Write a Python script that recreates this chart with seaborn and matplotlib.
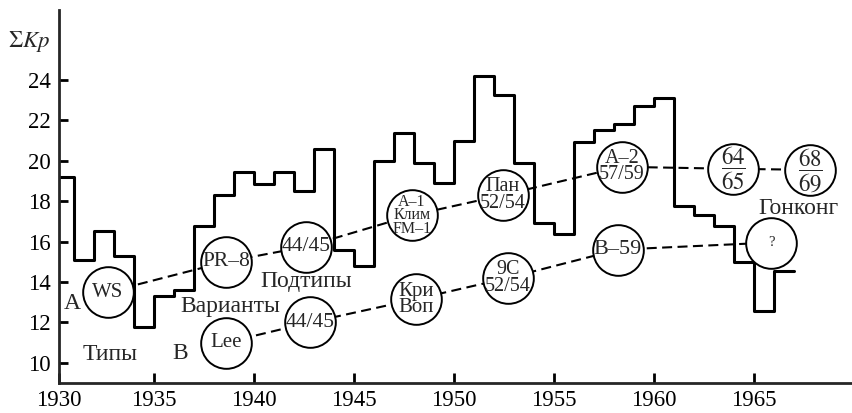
import matplotlib
matplotlib.use('Agg')
import matplotlib.pyplot as plt
import numpy as np
import pandas as pd
import seaborn as sns

# ---- data -------------------------------------------------------------
years = list(range(1930, 1967))
kp = [19.2, 15.1, 16.5, 15.3, 11.75, 13.3, 13.6, 16.75, 18.3, 19.45,
      18.85, 19.45, 18.5, 20.6, 15.6, 14.8, 20.0, 21.35, 19.9, 18.9,
      21.0, 24.2, 23.25, 19.9, 16.9, 16.35, 20.95, 21.5, 21.8, 22.7,
      23.1, 17.75, 17.3, 16.75, 15.0, 12.55, 14.55]

tick_years = [1930, 1935, 1940, 1945, 1950, 1955, 1960, 1965]
y_ticks = [10, 12, 14, 16, 18, 20, 22, 24]

# Type A chain (subtypes)
upper_x = [1932.7, 1938.6, 1942.6, 1947.9, 1952.45, 1958.4, 1963.95, 1967.8]
upper_y = [13.5, 15.0, 15.75, 17.3, 18.3, 19.7, 19.6, 19.55]
upper_labels = ['WS', 'PR–8', '44/45', 'A–1\nКлим\nFM–1', 'Пан\n52/54',
                'A–2\n57/59', r'$\dfrac{64}{65}$', r'$\dfrac{68}{69}$']
upper_sizes = [15, 15.5, 15.5, 11.5, 14.5, 14.5, 16.5, 16.5]

# Type B chain (variants)
lower_x = [1938.6, 1942.8, 1948.1, 1952.7, 1958.2, 1965.85]
lower_y = [11.0, 12.0, 13.15, 14.2, 15.6, 15.95]
lower_labels = ['Lee', '44/45', 'Кри\nВоп', '9C\n52/54', 'B–59', '?']
lower_sizes = [15, 15.5, 15, 14.5, 16, 10.5]

notes = ['A', 'B', 'Типы', 'Варианты', 'Подтипы', 'Гонконг']
note_x = [1930.9, 1936.3, 1932.8, 1938.8, 1942.6, 1967.2]
note_y = [12.95, 10.45, 10.4, 12.8, 14.0, 17.65]

# ---- style ------------------------------------------------------------
sns.set_style('ticks')
plt.rcParams['font.family'] = ['Liberation Serif', 'DejaVu Serif']
plt.rcParams['mathtext.fontset'] = 'stix'

fig = plt.figure(figsize=(8.53, 4.13), dpi=100)
ax = fig.add_axes([59 / 853, 30 / 413, 794 / 853, 373 / 413])

x_left, x_right = 1930.25, 1969.95
ax.set_xlim(x_left, x_right)
ax.set_ylim(9.0, 27.46)

step_df = pd.DataFrame({'year': years + [years[-1] + 1],
                        'kp': kp + [kp[-1]]})
sns.lineplot(data=step_df, x='year', y='kp', drawstyle='steps-post',
             color='black', lw=2.2, estimator=None, ax=ax, zorder=2)

for xs, ys in [(upper_x, upper_y), (lower_x, lower_y)]:
    sns.lineplot(x=xs, y=ys, color='black', lw=1.5, ls=(0, (4.8, 2.6)),
                 estimator=None, ax=ax, zorder=2.5)
    sns.scatterplot(x=xs, y=ys, s=1330, color='white', edgecolor='black',
                    linewidth=1.4, ax=ax, zorder=3)

for xs, ys, labs, sz in [(upper_x, upper_y, upper_labels, upper_sizes),
                         (lower_x, lower_y, lower_labels, lower_sizes)]:
    for x, y, t, s in zip(xs, ys, labs, sz):
        ax.text(x, y, t, ha='center', va='center', fontsize=s,
                linespacing=0.8, zorder=4)

for t, x, y in zip(notes, note_x, note_y):
    ax.text(x, y, t, ha='center', va='center', fontsize=17, zorder=4)

# ---- axes -------------------------------------------------------------
sns.despine(ax=ax)
for sp in ['left', 'bottom']:
    ax.spines[sp].set_linewidth(2)
ax.set_xticks([max(t, x_left) for t in tick_years])
ax.set_xticklabels([str(t) for t in tick_years])
ax.set_yticks(y_ticks)
ax.set_yticklabels([str(v) for v in y_ticks])
ax.tick_params(axis='both', direction='in', width=2, labelsize=16.5,
               colors='black')
ax.tick_params(axis='y', length=6.5, pad=6)
ax.tick_params(axis='x', length=7, pad=5)
ax.set_xlabel('')
ax.set_ylabel('')

fig.text(8 / 853, 1 - 47 / 413, r'$\Sigma Kp$', fontsize=16.5,
         ha='left', va='baseline')

fig.savefig('out.png', dpi=100)
